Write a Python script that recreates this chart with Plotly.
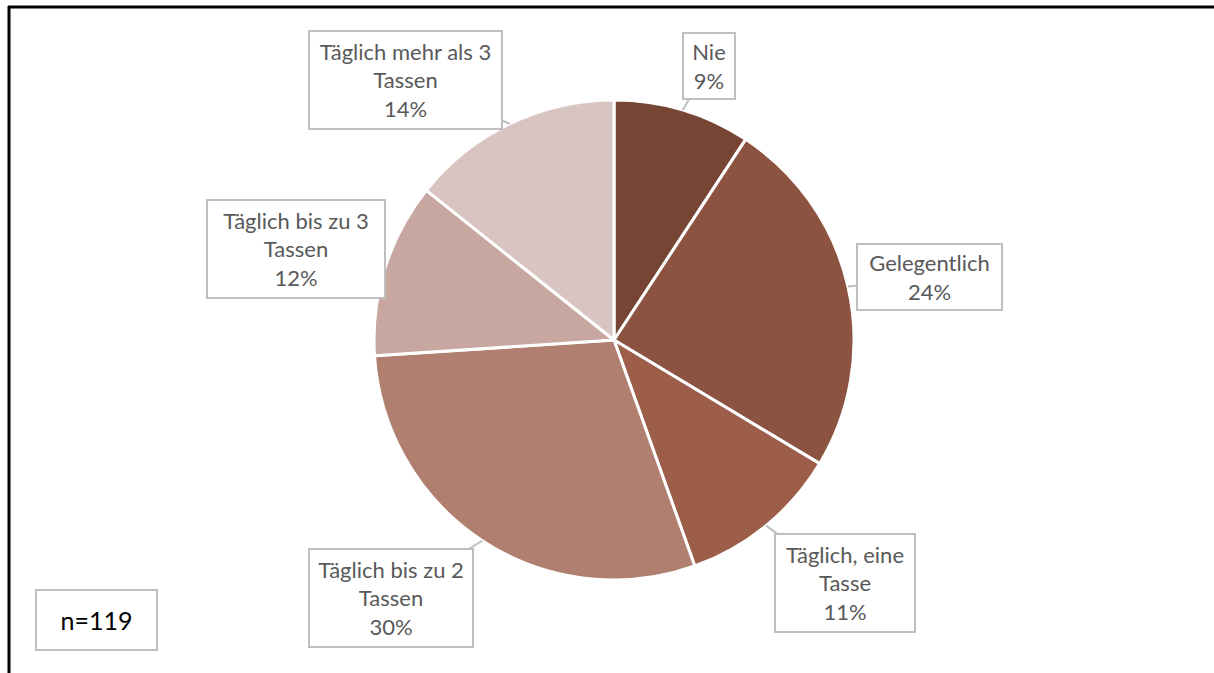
import math
import plotly.graph_objects as go

# Data
categories = ["Nie", "Gelegentlich", "Täglich, eine Tasse", "Täglich bis zu 2 Tassen",
              "Täglich bis zu 3 Tassen", "Täglich mehr als 3 Tassen"]
label_texts = ["Nie", "Gelegentlich", "Täglich, eine<br>Tasse", "Täglich bis zu 2<br>Tassen",
               "Täglich bis zu 3<br>Tassen", "Täglich mehr als 3<br>Tassen"]
counts = [11, 29, 13, 35, 14, 17]
pct_labels = ["9%", "24%", "11%", "30%", "12%", "14%"]
n_label = "n=119"

colors = ["#774533", "#8B5340", "#9C5E48", "#B07F70", "#C7A79F", "#D8C5C2"]

W, H = 1214, 673
cx, cy, R = 614, 340, 240  # pie center / radius in pixels

# label box centers (px) and sizes (px)
box_centers = [(709, 66), (930, 277), (845, 583), (391, 598), (296, 249), (405, 80)]
box_sizes = [(50, 64), (143, 64), (138, 96), (162, 96), (176, 96), (191, 96)]

def px(x):
    return x / W

def py(y):
    return 1 - y / H

fig = go.Figure(go.Pie(
    labels=categories, values=counts, sort=False, direction="clockwise",
    marker=dict(colors=colors, line=dict(color="white", width=3)),
    textinfo="none", hoverinfo="label+percent", showlegend=False,
    domain=dict(x=[px(cx - R), px(cx + R)], y=[py(cy + R), py(cy - R)]),
))

total = sum(counts)
annotations = []
cum = 0
for i, c in enumerate(counts):
    mid = (cum + c / 2) / total * 2 * math.pi
    cum += c
    tx = cx + R * math.sin(mid)
    ty = cy - R * math.cos(mid)
    bx, by = box_centers[i]
    bw, bh = box_sizes[i]
    annotations.append(dict(
        x=px(tx), y=py(ty), xref="paper", yref="paper",
        text=f"{label_texts[i]}<br>{pct_labels[i]}",
        showarrow=True, arrowhead=0, arrowwidth=2, arrowcolor="#BFBFBF",
        ax=bx - tx, ay=by - ty, axref="pixel", ayref="pixel",
        width=bw, height=bh, align="center", valign="middle",
        bgcolor="white", bordercolor="#BFBFBF", borderwidth=2, borderpad=0,
        font=dict(family="Lato", size=22, color="#595959"),
    ))

annotations.append(dict(
    x=px(96.5), y=py(620), xref="paper", yref="paper", text=n_label, showarrow=False,
    xanchor="center", yanchor="middle",
    width=119, height=58, bgcolor="white", bordercolor="#BFBFBF", borderwidth=2, borderpad=0,
    font=dict(family="Lato", size=25, color="#000000"),
))

shapes = [
    dict(type="line", xref="paper", yref="paper", x0=px(8), x1=1, y0=py(7), y1=py(7),
         line=dict(color="black", width=3)),
    dict(type="line", xref="paper", yref="paper", x0=px(9), x1=px(9), y0=py(6), y1=0,
         line=dict(color="black", width=3)),
]

fig.update_layout(
    width=W, height=H, margin=dict(l=0, r=0, t=0, b=0),
    paper_bgcolor="white", plot_bgcolor="white",
    annotations=annotations, shapes=shapes,
)

fig.write_html("out.html", config={"displayModeBar": False},
               post_script="document.body.style.margin='0px';")
